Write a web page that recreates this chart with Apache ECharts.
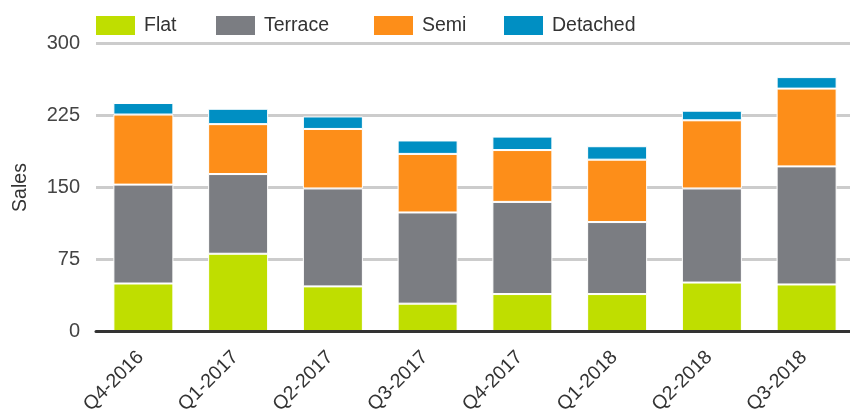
<!DOCTYPE html>
<html>
<head>
<meta charset="utf-8">
<script src="https://cdn.jsdelivr.net/npm/echarts@6/dist/echarts.min.js"></script>
<style>
html,body{margin:0;padding:0;background:#fff;}
#chart{width:850px;height:412px;}
</style>
</head>
<body>
<div id="chart"></div>
<script>
const categories = ['Q4-2016','Q1-2017','Q2-2017','Q3-2017','Q4-2017','Q1-2018','Q2-2018','Q3-2018'];
const flat     = [50, 81, 47, 29, 39, 39, 51, 49];
const terrace  = [103, 83, 102, 95, 96, 75, 98, 123];
const semi     = [73, 52, 62, 61, 54, 65, 71, 81];
const detached = [12, 16, 13, 14, 14, 14, 10, 12];
const yTicks = [0, 75, 150, 225, 300];

const seriesNames = ['Flat','Terrace','Semi','Detached'];
const seriesData = [flat, terrace, semi, detached];
const colors = ['#BFDE00','#7B7D82','#FD8E19','#008FC3'];
const legendLefts = [94, 214, 372, 502];
const FONT = 'Liberation Sans, Arial, sans-serif';

const chart = echarts.init(document.getElementById('chart'), null, {renderer:'canvas'});
chart.setOption({
  animation: false,
  backgroundColor: '#fff',
  color: colors,
  legend: seriesNames.map((n, i) => ({
    data: [n],
    left: legendLefts[i],
    top: 14,
    padding: 0,
    itemWidth: 41,
    itemHeight: 21,
    itemGap: 0,
    icon: 'rect',
    selectedMode: false,
    textStyle: {fontFamily: FONT, fontSize: 19.5, color: '#333', padding: [0,0,0,3]}
  })),
  grid: {left: 96, width: 758, top: 43.5, bottom: 80.5, containLabel: false, outerBoundsMode: 'none'},
  xAxis: {
    type: 'category',
    data: categories,
    axisLine: {show: true, lineStyle: {color: '#333', width: 3}},
    axisTick: {show: false},
    axisLabel: {rotate: 45, margin: 20, padding: [0,4,0,0], fontFamily: FONT, fontSize: 19.5, color: '#333'},
    z: 5
  },
  yAxis: {
    type: 'value',
    min: 0, max: 300, interval: 75,
    name: 'Sales',
    nameLocation: 'middle',
    nameGap: 65,
    nameRotate: 90,
    nameTextStyle: {fontFamily: FONT, fontSize: 19.5, color: '#333'},
    axisLine: {show: false},
    axisTick: {show: false},
    splitLine: {lineStyle: {color: '#CCCCCC', width: 3}},
    axisLabel: {
      margin: 16, fontFamily: FONT, fontSize: 20, color: '#444',
      formatter: v => yTicks.includes(v) ? String(v) : ''
    }
  },
  series: seriesNames.map((n, i) => ({
    name: n,
    type: 'bar',
    stack: 'total',
    data: seriesData[i],
    barWidth: 60,
    itemStyle: {color: colors[i], borderColor: '#fff', borderWidth: 1}
  }))
});
</script>
</body>
</html>
